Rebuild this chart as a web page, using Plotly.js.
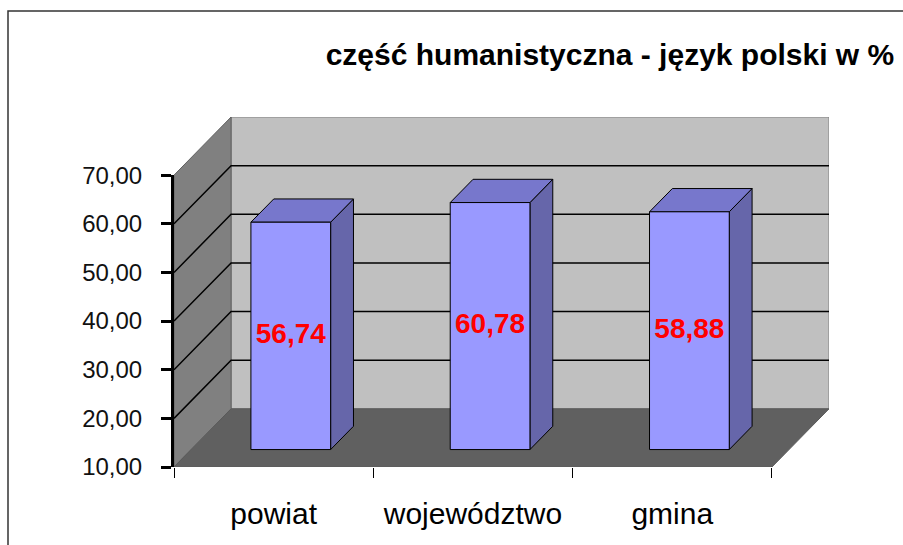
<!DOCTYPE html>
<html>
<head>
<meta charset="utf-8">
<script src="https://cdn.plot.ly/plotly-3.0.1.min.js"></script>
<style>html,body{margin:0;padding:0;background:#fff;}#chart{width:903px;height:545px;}</style>
</head>
<body>
<div id="chart"></div>
<script>
// ---- data ----
const categories = ['powiat', 'województwo', 'gmina'];
const values = [56.74, 60.78, 58.88];
const yTicks = [10, 20, 30, 40, 50, 60, 70];
const titleText = 'część humanistyczna - język polski w %';

// ---- 3D geometry (styling) ----
const DX = 0.2864;   // depth offset in x units
const DY = 11.96;    // depth offset in y units
const BAR_W = 0.4;
const D1 = 0.3, D2 = 0.7;
const FONT = 'Liberation Sans, Arial, sans-serif';

const yMin = yTicks[0], yMax = yTicks[yTicks.length - 1];
const xL = -0.5, xR = categories.length - 0.5;

function P(x, v, d) { return [x + d * DX, v + d * DY]; }
function poly(pts, fill, line, lw) {
  const xs = pts.map(p => p[0]), ys = pts.map(p => p[1]);
  xs.push(xs[0]); ys.push(ys[0]);
  return {x: xs, y: ys, type: 'scatter', mode: 'lines', fill: 'toself',
    fillcolor: fill, line: {color: line, width: lw}, hoverinfo: 'skip', showlegend: false};
}

const traces = [];
// back wall
traces.push(poly([P(xL, yMin, 1), P(xR, yMin, 1), P(xR, yMax, 1), P(xL, yMax, 1)], '#c0c0c0', '#808080', 1));
// side wall
traces.push(poly([P(xL, yMin, 0), P(xL, yMin, 1), P(xL, yMax, 1), P(xL, yMax, 0)], '#808080', '#606060', 1));
// floor
traces.push(poly([P(xL, yMin, 0), P(xR, yMin, 0), P(xR, yMin, 1), P(xL, yMin, 1)], '#606060', '#5a5a5a', 1));

// gridlines
const gx = [], gy = [];
yTicks.slice(1, -1).forEach(v => {
  [P(xL, v, 0), P(xL, v, 1), P(xR, v, 1)].forEach(p => { gx.push(p[0]); gy.push(p[1]); });
  gx.push(null); gy.push(null);
});
traces.push({x: gx, y: gy, type: 'scatter', mode: 'lines', line: {color: '#000', width: 1.5},
  hoverinfo: 'skip', showlegend: false, connectgaps: false});

// bars
values.forEach((v, i) => {
  const a = i - BAR_W / 2, b = i + BAR_W / 2;
  traces.push(poly([P(b, yMin, D1), P(b, yMin, D2), P(b, v, D2), P(b, v, D1)], '#6666aa', '#000', 1));
  traces.push(poly([P(a, v, D1), P(b, v, D1), P(b, v, D2), P(a, v, D2)], '#7777cc', '#000', 1));
  traces.push(poly([P(a, yMin, D1), P(b, yMin, D1), P(b, v, D1), P(a, v, D1)], '#9999ff', '#000', 1));
});

// data labels
traces.push({
  x: values.map((v, i) => P(i, (yMin + v) / 2, D1)[0]),
  y: values.map((v, i) => P(i, (yMin + v) / 2, D1)[1]),
  text: values.map(v => v.toFixed(2).replace('.', ',')),
  type: 'scatter', mode: 'text', textposition: 'middle center',
  textfont: {family: FONT, size: 28, color: '#ff0000', weight: 700},
  hoverinfo: 'skip', showlegend: false, cliponaxis: false
});

// dummy trace for the value axis
traces.push({x: [null], y: [null], xaxis: 'x', yaxis: 'y2', type: 'scatter', mode: 'markers',
  hoverinfo: 'skip', showlegend: false});

const plotW = 903 - 174 - 74, plotH = 545 - 117 - 78;

const layout = {
  width: 903, height: 545,
  margin: {l: 174, r: 74, t: 117, b: 78, pad: 0},
  paper_bgcolor: '#ffffff', plot_bgcolor: 'rgba(0,0,0,0)',
  separators: ', ',
  showlegend: false,
  hovermode: false,
  font: {family: FONT, color: '#000'},
  title: {
    text: '<b>' + titleText + '</b>',
    font: {family: FONT, size: 30, color: '#000'},
    x: 601 / 903, xanchor: 'center', xref: 'paper',
    y: 1 - 54 / 545, yanchor: 'middle', yref: 'container'
  },
  xaxis: {
    range: [xL, xR + DX], fixedrange: true,
    tickmode: 'array', tickvals: categories.map((c, i) => i), ticktext: categories,
    ticks: '', showline: false, showgrid: false, zeroline: false,
    tickfont: {family: FONT, size: 30, color: '#000'},
    ticklabelstandoff: 26,
    minor: {tickmode: 'array', tickvals: categories.map((c, i) => i - 0.5).concat([xR]),
      ticks: 'outside', ticklen: 10, tickwidth: 1, tickcolor: '#000', showgrid: false}
  },
  yaxis: {range: [yMin, yMax + DY], visible: false, fixedrange: true},
  yaxis2: {
    domain: [0, (yMax - yMin) / (yMax - yMin + DY)], anchor: 'x', side: 'left',
    range: [yMin, yMax], fixedrange: true,
    tickmode: 'array', tickvals: yTicks, tickformat: '.2f',
    showline: true, linewidth: 3, linecolor: '#000',
    ticks: 'outside', ticklen: 10, tickwidth: 3, tickcolor: '#000',
    showgrid: false, zeroline: false,
    tickfont: {family: FONT, size: 24, color: '#111'},
    ticklabelstandoff: 14
  },
  shapes: [{
    type: 'rect', xref: 'paper', yref: 'paper',
    x0: (8 - 174) / plotW, x1: (910 - 174) / plotW,
    y0: (467 - 552) / plotH, y1: (467 - 11) / plotH,
    line: {color: '#333', width: 1.5}, fillcolor: 'rgba(0,0,0,0)', layer: 'below'
  }]
};

Plotly.newPlot('chart', traces, layout, {displayModeBar: false, staticPlot: true});
</script>
</body>
</html>
